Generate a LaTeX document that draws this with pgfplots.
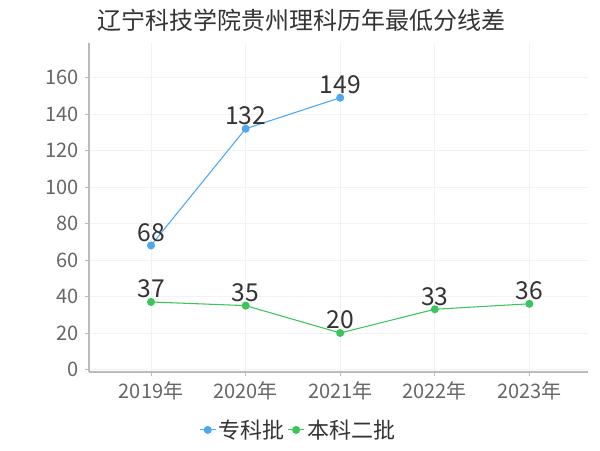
\documentclass[border=0pt]{standalone}
\usepackage{fontspec}
\setmainfont{Noto Sans CJK SC}
\usepackage{pgfplots}
\pgfplotsset{compat=1.18}
\definecolor{zkblue}{HTML}{4DA8F2}
\definecolor{bkgreen}{HTML}{3CC55A}
\definecolor{axisgray}{HTML}{BBBBBB}
\definecolor{gridgray}{HTML}{F2F2F2}
\definecolor{ticktext}{HTML}{666666}
\definecolor{labeltext}{HTML}{333333}

\begin{document}
\begin{tikzpicture}
\useasboundingbox (0pt,0pt) rectangle (450pt,337.5pt);
\node[anchor=west,font=\fontsize{18}{20}\selectfont,text=labeltext,inner sep=0pt] at (72.75pt,322.5pt) {辽宁科技学院贵州理科历年最低分线差};
\begin{axis}[
  at={(66.75pt,58.5pt)},anchor=south west,
  scale only axis,width=374.25pt,height=246.75pt,
  xmin=-0.656,xmax=4.62,ymin=-1.4,ymax=179,
  xtick={0,1,2,3,4},
  xticklabels={2019年,2020年,2021年,2022年,2023年},
  ytick={0,20,...,160},
  axis x line*=bottom,axis y line*=left,
  axis line style={draw=axisgray,line width=0.8pt,-},
  tick style={draw=axisgray,line width=0.6pt},
  tick align=outside,major tick length=3pt,
  grid=major,grid style={draw=gridgray,line width=0.6pt},
  ticklabel style={text=ticktext,font=\fontsize{15}{17}\selectfont},
  /pgf/number format/assume math mode=true,
  xticklabel style={yshift=-1pt},
  yticklabel style={xshift=-1pt},
  nodes near coords,
  nodes near coords style={anchor=center,yshift=9.75pt,text=labeltext,font=\fontsize{18.5}{20}\selectfont},
  legend style={at={(0.42,-0.176)},anchor=center,draw=none,fill=none,
    legend columns=-1,font=\fontsize{16.5}{18}\selectfont,text=labeltext,
    inner sep=0pt},
  legend image code/.code={
    \draw[#1] (0cm,0cm) -- (0.42cm,0cm);
    \draw[#1,mark repeat=1] plot coordinates {(0.21cm,0cm)};},
  clip=false,
]
\addplot[color=zkblue,line width=0.8pt,mark=*,mark size=2.6pt,mark options={fill=zkblue,draw=zkblue}]
  coordinates {(0,68) (1,132) (2,149)};
\addplot[color=bkgreen,line width=0.8pt,mark=*,mark size=2.6pt,mark options={fill=bkgreen,draw=bkgreen}]
  coordinates {(0,37) (1,35) (2,20) (3,33) (4,36)};
\legend{专科批,本科二批}
\end{axis}
\end{tikzpicture}
\end{document}
